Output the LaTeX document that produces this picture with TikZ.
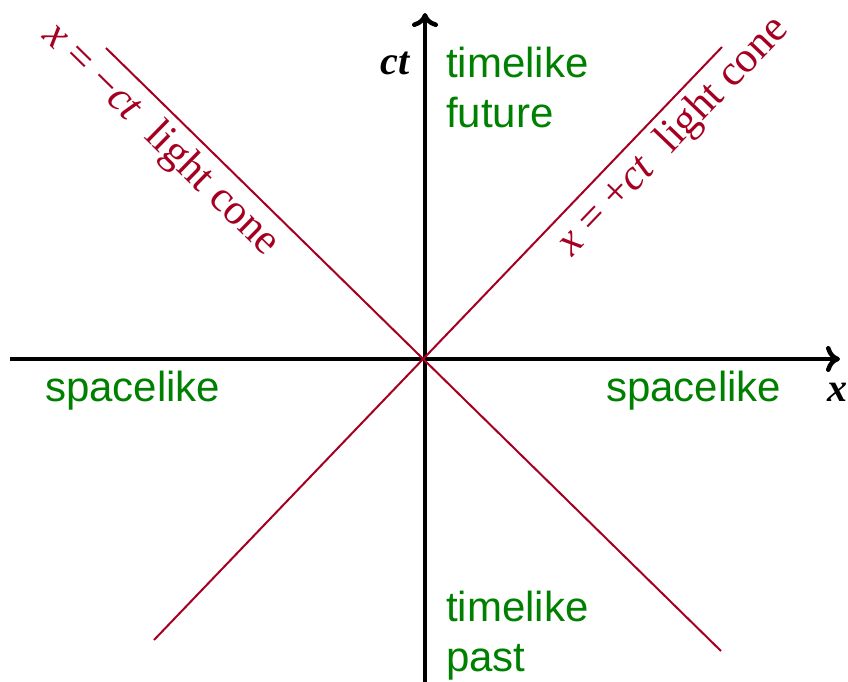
\documentclass[tikz,border=0pt]{standalone}
\usepackage{fontspec}
\setmainfont{Liberation Serif}
\setsansfont{Liberation Sans}
\usetikzlibrary{arrows.meta}

\definecolor{conered}{RGB}{165,0,33}
\definecolor{regiongreen}{RGB}{0,128,0}

\begin{document}
\begin{tikzpicture}[
    x=1pt, y=1pt,
    axis/.style={line width=4.5pt, -{To[length=14pt,width=26pt]}},
    cone/.style={line width=2pt, draw=conered},
    region/.style={text=regiongreen, font=\sffamily\fontsize{42}{50}\selectfont, inner sep=0pt, align=left},
    conelabel/.style={text=conered, font=\fontsize{43}{50}\selectfont, sloped, below, inner sep=7pt},
    axislabel/.style={font=\fontsize{40}{48}\selectfont\bfseries\itshape, inner sep=0pt}
]
\useasboundingbox (-425,-323) rectangle (423,359);

% axes
\coordinate (xmin) at (-415,0);
\coordinate (xmax) at (415,0);
\coordinate (tmin) at (0,-323);
\coordinate (tmax) at (0,346);
\draw[axis] (xmin) -- (xmax);
\draw[axis] (tmin) -- (tmax);

% light cone
\coordinate (pastL) at (-271,-281);
\coordinate (futR) at (297,312);
\coordinate (futL) at (-319,311);
\coordinate (pastR) at (296,-292);
\draw[cone] (pastL) -- node[conelabel, pos=0.88] {\textit{x} = +\textit{ct}\ \ light cone} (futR);
\draw[cone] (futL) -- node[conelabel, pos=0.12] {\textit{x} = −\textit{ct}\ \ light cone} (pastR);

% labels
\node[axislabel, anchor=base east] (ctlabel) at (-15,284) {ct};
\node[axislabel, anchor=base west] (xlabel) at (402,-43) {x};
\node[region, anchor=north west] (future) at (21,312) {timelike\\future};
\node[region, anchor=north west] (past) at (21,-232) {timelike\\past};
\node[region, anchor=base west] (spaceL) at (-380,-43) {spacelike};
\node[region, anchor=base west] (spaceR) at (181,-43) {spacelike};
\end{tikzpicture}
\end{document}
